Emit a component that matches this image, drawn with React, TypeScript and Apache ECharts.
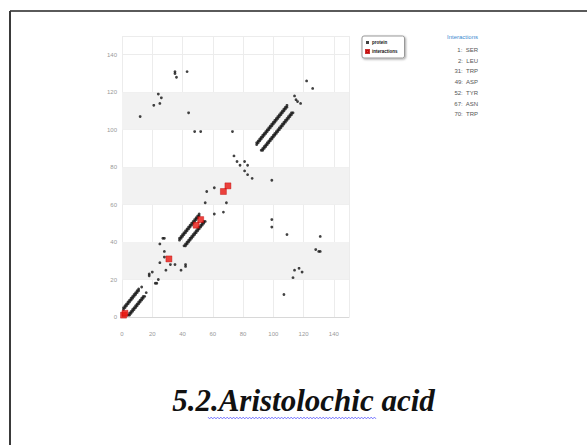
import React, { useEffect, useRef } from "react";
import * as echarts from "echarts";

// ---- data ----
const xTickValues = [0, 20, 40, 60, 80, 100, 120, 140];
const yTickValues = [0, 20, 40, 60, 80, 100, 120, 140];
const shadedBands = [[20, 40], [60, 80], [100, 120]];

const interactionTitle = "Interactions";
const interactionLabels = ["1:  SER", "2:  LEU", "31:  TRP", "49:  ASP", "52:  TYR", "67:  ASN", "70:  TRP"];
const interactionPoints = [[1, 1], [2, 2], [31, 31], [49, 49], [52, 52], [67, 67], [70, 70]];

const helix1Upper = [[1,4],[1,5],[2,5],[2,6],[3,6],[3,7],[4,7],[4,8],[5,8],[5,9],[6,9],[6,10],[7,10],[7,11],[8,11],[8,12],[9,12],[9,13],[10,13],[10,14],[11,14],[11,15]];
const helix1Lower = [[4,1],[5,1],[5,2],[6,2],[6,3],[7,3],[7,4],[8,4],[8,5],[9,5],[9,6],[10,6],[10,7],[11,7],[11,8],[12,8],[12,9],[13,9],[13,10],[14,10],[14,11],[15,11]];
const helix2Upper = [[38,41],[38,42],[39,42],[39,43],[40,43],[40,44],[41,44],[41,45],[42,45],[42,46],[43,46],[43,47],[44,47],[44,48],[45,48],[45,49],[46,49],[46,50],[47,50],[47,51],[48,51],[48,52],[49,52],[49,53],[50,53],[50,54],[51,54],[51,55]];
const helix2Lower = [[41,38],[42,38],[42,39],[43,39],[43,40],[44,40],[44,41],[45,41],[45,42],[46,42],[46,43],[47,43],[47,44],[48,44],[48,45],[49,45],[49,46],[50,46],[50,47],[51,47],[51,48],[52,48],[52,49],[53,49],[53,50],[54,50],[54,51],[55,51]];
const helix3Upper = [[89,92],[89,93],[90,93],[90,94],[91,94],[91,95],[92,95],[92,96],[93,96],[93,97],[94,97],[94,98],[95,98],[95,99],[96,99],[96,100],[97,100],[97,101],[98,101],[98,102],[99,102],[99,103],[100,103],[100,104],[101,104],[101,105],[102,105],[102,106],[103,106],[103,107],[104,107],[104,108],[105,108],[105,109],[106,109],[106,110],[107,110],[107,111],[108,111],[108,112],[109,112],[109,113]];
const helix3Lower = [[92,89],[93,89],[93,90],[94,90],[94,91],[95,91],[95,92],[96,92],[96,93],[97,93],[97,94],[98,94],[98,95],[99,95],[99,96],[100,96],[100,97],[101,97],[101,98],[102,98],[102,99],[103,99],[103,100],[104,100],[104,101],[105,101],[105,102],[106,102],[106,103],[107,103],[107,104],[108,104],[108,105],[109,105],[109,106],[110,106],[110,107],[111,107],[111,108],[112,108],[112,109],[113,109]];
const scatterUpper = [[12,107],[21,113],[25,114],[24,119],[26,117],[35,130],[35,131],[36,128],[43,131],[44,109],[48,99],[52,99],[73,99],[74,86],[76,83],[78,81],[81,83],[13,16],[18,22],[18,23],[20,24],[25,29],[25,39],[27,42],[28,42],[28,35],[28,32],[55,61],[56,67],[61,69],[114,118],[115,116],[122,126]];
const scatterLower = [[107,12],[113,21],[114,25],[119,24],[117,26],[130,35],[131,35],[128,36],[131,43],[109,44],[99,48],[99,52],[99,73],[86,74],[83,76],[81,78],[83,81],[16,13],[22,18],[23,18],[24,20],[29,25],[39,25],[42,27],[42,28],[35,28],[32,28],[61,55],[67,56],[69,61],[118,114],[116,115],[126,122]];

const proteinPoints = [
  ...helix1Upper, ...helix1Lower, ...helix2Upper, ...helix2Lower,
  ...helix3Upper, ...helix3Lower, ...scatterUpper, ...scatterLower,
];

const TITLE = "5.2.Aristolochic acid";

export default function App() {
  const ref = useRef<HTMLDivElement>(null);
  useEffect(() => {
    if (!ref.current) return;
    const chart = echarts.init(ref.current, null, { renderer: "svg" });
    const labelFont = "'Liberation Sans Narrow', 'Liberation Sans', Arial, sans-serif";

    const wave: number[][] = [];
    for (let i = 0, x = 208; x <= 377; i++, x += 1.6) {
      wave.push([x, 418 + (i % 2 === 0 ? -0.9 : 0.9)]);
    }

    const graphics: any[] = [
      { type: "line", shape: { x1: 10, y1: 11, x2: 587, y2: 11 }, style: { stroke: "#5a5a5a", lineWidth: 2 } },
      { type: "line", shape: { x1: 10, y1: 11, x2: 10, y2: 445 }, style: { stroke: "#3a3a3a", lineWidth: 2 } },
      {
        type: "text", x: 478, y: 37,
        style: { text: interactionTitle, fill: "#3d8bd0", font: `6px ${labelFont}`, textAlign: "right", textVerticalAlign: "middle" },
      },
      ...interactionLabels.map((t, k) => ({
        type: "text", x: 478, y: 50 + k * 10.7,
        style: { text: t, fill: "#555", font: `6px ${labelFont}`, textAlign: "right", textVerticalAlign: "middle" },
      })),
      {
        type: "text", x: 303.5, y: 400,
        style: { text: TITLE, fill: "#111", font: "italic bold 31px 'Liberation Serif', 'Times New Roman', serif", textAlign: "center", textVerticalAlign: "middle" },
      },
      { type: "polyline", shape: { points: wave }, style: { stroke: "#5a5aff", lineWidth: 0.8, fill: "none" } },
    ];

    chart.setOption({
      animation: false,
      grid: { left: 122, right: 238, top: 36, bottom: 128 },
      legend: {
        data: [
          { name: "protein", icon: "rect" },
          { name: "interactions", icon: "rect" },
        ],
        orient: "vertical",
        left: 362, top: 36,
        itemWidth: 3, itemHeight: 3, itemGap: 4,
        padding: [4, 7, 4, 3],
        borderColor: "#999", borderWidth: 1, borderRadius: 2,
        backgroundColor: "#fff",
        shadowColor: "rgba(0,0,0,0.35)", shadowBlur: 2, shadowOffsetX: 1, shadowOffsetY: 1,
        textStyle: { fontSize: 4.5, color: "#111", fontWeight: "bold", fontFamily: labelFont, padding: [0, 0, 0, -2] },
      },
      xAxis: {
        type: "value", min: 0, max: 150, interval: 20,
        axisLine: { show: true, lineStyle: { color: "#d8d8d8" } },
        axisTick: { show: false },
        axisLabel: {
          color: "#999", fontSize: 6, fontFamily: labelFont, margin: 14, showMaxLabel: false,
          formatter: (v: number) => (xTickValues.includes(v) ? String(v) : ""),
        },
        splitLine: { show: true, lineStyle: { color: "#ececec", width: 1 } },
      },
      yAxis: {
        type: "value", min: 0, max: 150, interval: 20,
        axisLine: { show: false },
        axisTick: { show: false },
        axisLabel: {
          color: "#999", fontSize: 6, fontFamily: labelFont, margin: 5, showMaxLabel: false,
          formatter: (v: number) => (yTickValues.includes(v) ? String(v) : ""),
        },
        splitLine: { show: true, lineStyle: { color: "#ececec", width: 1 } },
      },
      series: [
        {
          name: "protein", type: "scatter", data: proteinPoints,
          symbol: "circle", symbolSize: 2.8,
          itemStyle: { color: "#111" },
          markArea: {
            silent: true,
            itemStyle: { color: "#f2f2f2" },
            data: shadedBands.map(([a, b]) => [{ yAxis: a }, { yAxis: b }]),
          },
          z: 3,
        },
        {
          name: "interactions", type: "scatter", data: interactionPoints,
          symbol: "rect", symbolSize: 6,
          itemStyle: { color: "#e8140e", borderColor: "#b00", borderWidth: 0.5 },
          z: 4,
        },
      ],
      graphic: graphics,
    });
    return () => chart.dispose();
  }, []);
  return (
    <div ref={ref} style={{ position: "absolute", left: 0, top: 0, width: 587, height: 445, background: "#fff" }} />
  );
}
